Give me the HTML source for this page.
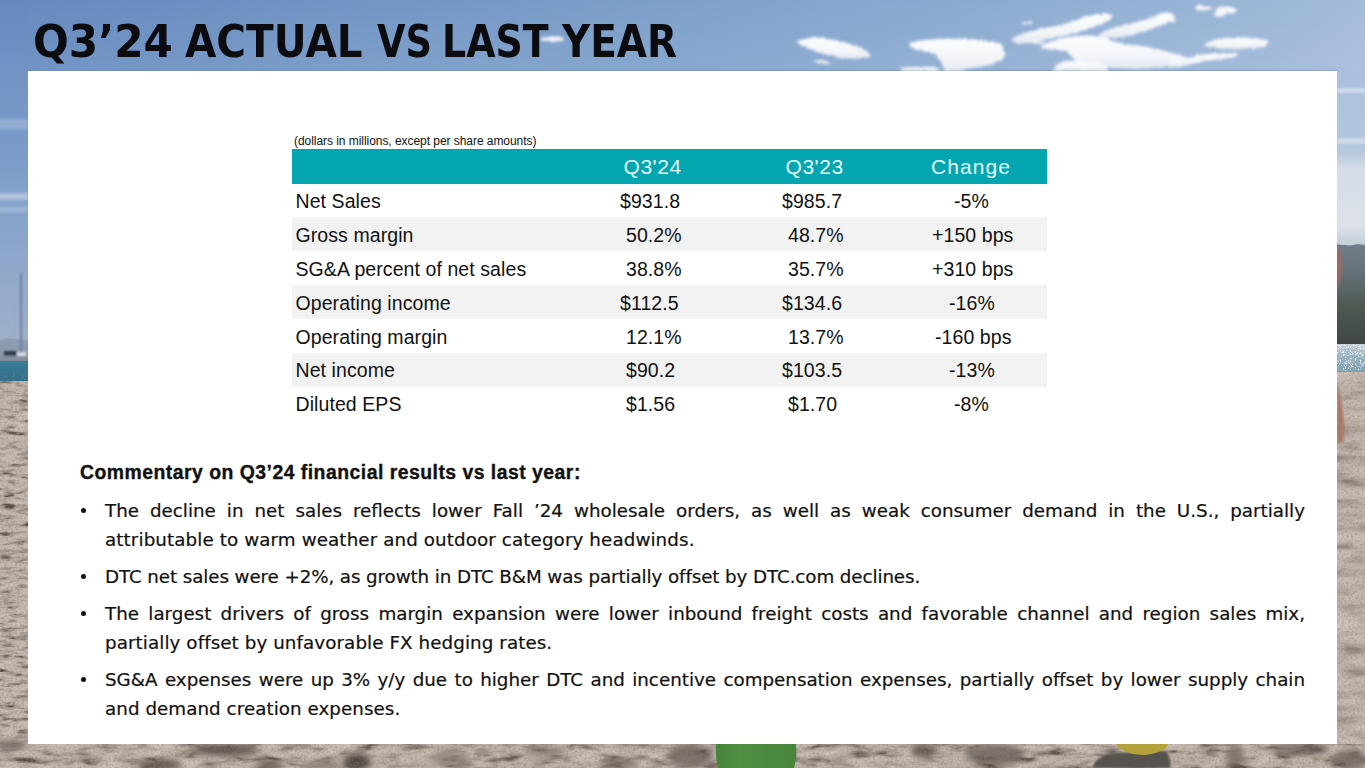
<!DOCTYPE html>
<html><head><meta charset="utf-8">
<style>
html,body{margin:0;padding:0;}
body{width:1365px;height:768px;overflow:hidden;position:relative;background:#7a9dca;font-family:"Liberation Sans",Arial,sans-serif;}
#bg{position:absolute;left:0;top:0;width:1365px;height:768px;}
#title{position:absolute;left:0;top:0;margin:0;font-weight:bold;font-size:44px;font-family:"DejaVu Sans","Liberation Sans",sans-serif;color:#0b0b10;}
#title span{position:absolute;top:12px;line-height:60px;white-space:nowrap;transform-origin:0 0;}
#panel{position:absolute;left:28px;top:71px;width:1309px;height:673px;background:#fff;}
#note{position:absolute;left:294px;top:133.5px;font:12px/14px "Liberation Sans",Arial,sans-serif;letter-spacing:-0.05px;color:#111;white-space:nowrap;}
#tbl{position:absolute;left:292px;top:149px;width:755px;}
.hd{height:34.5px;background:#03a5b1;position:relative;color:#e6fbfb;font-size:21px;letter-spacing:0.55px;}
.r{height:33.95px;position:relative;font-size:19.5px;letter-spacing:0.08px;color:#111;}
.r.g{background:#f2f2f2;}
.hd span,.r span{position:absolute;white-space:nowrap;}
.hd span{top:6px;line-height:24px;}
.r span{top:0.3px;line-height:35.5px;}
#comm{position:absolute;left:0;top:0;color:#111;}
#comm div{position:absolute;white-space:nowrap;}
.hh{left:80px;font:bold 19.4px/20px "Liberation Sans",Arial,sans-serif;letter-spacing:0.48px;-webkit-text-stroke:0.35px #111;}
.ln{left:105px;font:18.3px/20px "DejaVu Sans","Liberation Sans",sans-serif;-webkit-text-stroke:0.2px #111;}
.ln.j{width:1200px;text-align:justify;text-align-last:justify;}
.bu{left:81px;width:5px;height:5px;border-radius:50%;background:#111;}
</style></head>
<body>
<svg id="bg" width="1365" height="768" viewBox="0 0 1365 768">
  <defs>
    <linearGradient id="sky" x1="0" y1="0" x2="1" y2="0">
      <stop offset="0" stop-color="#6489be"/>
      <stop offset="0.5" stop-color="#7da0ca"/>
      <stop offset="0.93" stop-color="#9cb6d7"/>
      <stop offset="1" stop-color="#a4bcdb"/>
    </linearGradient>
    <linearGradient id="skyTop" x1="0" y1="0" x2="0" y2="1">
      <stop offset="0" stop-color="#ffffff" stop-opacity="0"/>
      <stop offset="1" stop-color="#ffffff" stop-opacity="0.09"/>
    </linearGradient>
    <linearGradient id="skyL" x1="0" y1="0" x2="0" y2="1">
      <stop offset="0" stop-color="#6589be"/>
      <stop offset="0.2" stop-color="#7194c5"/>
      <stop offset="0.45" stop-color="#7b9cc9"/>
      <stop offset="0.75" stop-color="#8fa8cb"/>
      <stop offset="1" stop-color="#9eb0ca"/>
    </linearGradient>
    <linearGradient id="skyR" x1="0" y1="0" x2="0" y2="1">
      <stop offset="0" stop-color="#a9c0dd"/>
      <stop offset="0.45" stop-color="#b3c7df"/>
      <stop offset="0.56" stop-color="#d5dce6"/>
      <stop offset="0.88" stop-color="#dde2e9"/>
      <stop offset="1" stop-color="#c2cedb"/>
    </linearGradient>
    <linearGradient id="mtn" x1="0" y1="0" x2="0" y2="1">
      <stop offset="0" stop-color="#737e8c"/>
      <stop offset="0.35" stop-color="#616c72"/>
      <stop offset="0.6" stop-color="#4f5a53"/>
      <stop offset="1" stop-color="#3f4642"/>
    </linearGradient>
    <linearGradient id="seaR" x1="0" y1="0" x2="0" y2="1">
      <stop offset="0" stop-color="#c9d5dd"/>
      <stop offset="0.35" stop-color="#9fb6c6"/>
      <stop offset="1" stop-color="#7b9cb0"/>
    </linearGradient>
    <filter id="spark" x="0" y="0" width="100%" height="100%">
      <feTurbulence type="turbulence" baseFrequency="0.6 0.9" numOctaves="1" seed="2"/>
      <feColorMatrix type="matrix" values="0 0 0 0 1  0 0 0 0 1  0 0 0 0 1  5 0 0 0 -1.1"/>
    </filter>
    <filter id="cl" x="-10%" y="-50%" width="120%" height="200%">
      <feTurbulence type="fractalNoise" baseFrequency="0.25" numOctaves="2" seed="4" result="t"/>
      <feDisplacementMap in="SourceGraphic" in2="t" scale="3.5" xChannelSelector="R" yChannelSelector="G" result="d"/>
      <feGaussianBlur in="d" stdDeviation="1.5"/>
    </filter>
    <linearGradient id="cg" x1="0" y1="0" x2="0" y2="1">
      <stop offset="0" stop-color="#fbfcfd"/>
      <stop offset="0.6" stop-color="#f4f6f9"/>
      <stop offset="1" stop-color="#e2e8f0"/>
    </linearGradient>
    <filter id="blur1"><feGaussianBlur stdDeviation="0.8"/></filter>
    <filter id="bl2" x="-20%" y="-100%" width="140%" height="300%"><feGaussianBlur stdDeviation="1.8"/></filter>
    <linearGradient id="grn" x1="0" y1="0" x2="1" y2="0">
      <stop offset="0" stop-color="#46843a"/>
      <stop offset="0.3" stop-color="#518e42"/>
      <stop offset="1" stop-color="#46853a"/>
    </linearGradient>
    <filter id="sandf3" x="0" y="0" width="100%" height="100%" color-interpolation-filters="sRGB">
      <feTurbulence type="fractalNoise" baseFrequency="0.04 0.14" numOctaves="4" seed="21"/>
      <feColorMatrix type="matrix" values="0.33 0.33 0.33 0 0  0.33 0.33 0.33 0 0  0.33 0.33 0.33 0 0  0 0 0 0 1"/>
      <feComponentTransfer>
        <feFuncR type="table" tableValues="0.27 0.27 0.28 0.36 0.60 0.74 0.79 0.82 0.84 0.86 0.88"/>
        <feFuncG type="table" tableValues="0.23 0.23 0.24 0.32 0.55 0.69 0.74 0.77 0.79 0.81 0.83"/>
        <feFuncB type="table" tableValues="0.21 0.21 0.22 0.29 0.51 0.65 0.70 0.73 0.75 0.77 0.79"/>
      </feComponentTransfer>
    </filter>
    <filter id="grain" x="0" y="0" width="100%" height="100%">
      <feTurbulence type="fractalNoise" baseFrequency="0.45" numOctaves="2" seed="9"/>
      <feColorMatrix type="matrix" values="0 0 0 0 0.25  0 0 0 0 0.22  0 0 0 0 0.2  -2.2 0 0 0 1.25"/>
    </filter>
    <filter id="bl06"><feGaussianBlur stdDeviation="0.6"/></filter>
    <filter id="bl1"><feGaussianBlur stdDeviation="1"/></filter>
    <filter id="bl3" x="-50%" y="-100%" width="200%" height="300%"><feGaussianBlur stdDeviation="3"/></filter>
    <filter id="sandf2" x="0" y="0" width="100%" height="100%" color-interpolation-filters="sRGB">
      <feTurbulence type="fractalNoise" baseFrequency="0.022 0.09" numOctaves="4" seed="5"/>
      <feColorMatrix type="matrix" values="0.33 0.33 0.33 0 0  0.33 0.33 0.33 0 0  0.33 0.33 0.33 0 0  0 0 0 0 1"/>
      <feComponentTransfer>
        <feFuncR type="table" tableValues="0.36 0.36 0.40 0.52 0.67 0.76 0.80 0.82 0.84 0.86 0.87"/>
        <feFuncG type="table" tableValues="0.31 0.31 0.35 0.47 0.62 0.71 0.75 0.77 0.79 0.81 0.82"/>
        <feFuncB type="table" tableValues="0.28 0.28 0.32 0.43 0.58 0.67 0.71 0.73 0.75 0.77 0.78"/>
      </feComponentTransfer>
    </filter>
    <filter id="sandf" x="0" y="0" width="100%" height="100%" color-interpolation-filters="sRGB">
      <feTurbulence type="fractalNoise" baseFrequency="0.06 0.22" numOctaves="4" seed="11"/>
      <feColorMatrix type="matrix" values="0.33 0.33 0.33 0 0  0.33 0.33 0.33 0 0  0.33 0.33 0.33 0 0  0 0 0 0 1"/>
      <feComponentTransfer>
        <feFuncR type="table" tableValues="0.29 0.29 0.29 0.33 0.62 0.76 0.79 0.81 0.83 0.85 0.87"/>
        <feFuncG type="table" tableValues="0.25 0.25 0.25 0.29 0.57 0.71 0.74 0.76 0.78 0.80 0.82"/>
        <feFuncB type="table" tableValues="0.22 0.22 0.22 0.26 0.53 0.67 0.70 0.72 0.74 0.76 0.78"/>
      </feComponentTransfer>
    </filter>
  </defs>
  <rect width="1365" height="768" fill="url(#sky)"/>
  <rect width="1365" height="72" fill="url(#skyTop)"/>
  <rect x="28" y="69.5" width="1309" height="1.5" fill="#6f86a6" opacity="0.35"/>
  <!-- left band -->
  <rect x="0" y="0" width="28" height="346" fill="url(#skyL)"/>
  <g filter="url(#bl2)" fill="#dfe7f1">
  <rect x="-6" y="119" width="34" height="10" opacity="0.28"/>
  <rect x="-6" y="193" width="34" height="7" opacity="0.5"/>
  <rect x="-6" y="207" width="34" height="5" opacity="0.3"/>
  </g>
  <linearGradient id="haze" x1="0" y1="0" x2="0" y2="1"><stop offset="0" stop-color="#9eb0c8"/><stop offset="0.4" stop-color="#93a3b8"/><stop offset="1" stop-color="#7f8c9a"/></linearGradient>
  <linearGradient id="seaL" x1="0" y1="0" x2="0" y2="1"><stop offset="0" stop-color="#3a7d98"/><stop offset="1" stop-color="#2c6f8c"/></linearGradient>
  <rect x="0" y="336" width="28" height="25" fill="url(#haze)"/>
  <path d="M0 340 Q8 337 16 339 L28 341 L28 350 L0 350 Z" fill="#8797ad" opacity="0.7"/>
  <g filter="url(#bl1)">
  <rect x="4" y="351" width="13" height="4.5" fill="#323a46"/>
  <rect x="17" y="352" width="9" height="4" fill="#d9dfe6"/>
  <rect x="20.2" y="273" width="1.8" height="80" fill="#6b7d98"/>
  <rect x="14.5" y="300" width="0.8" height="50" fill="#95a5ba"/>
  </g>
  <rect x="0" y="361" width="28" height="21" fill="url(#seaL)"/>
  <!-- right band -->
  <rect x="1337" y="71" width="28" height="175" fill="url(#skyR)"/>
  <rect x="1337" y="88" width="28" height="5" fill="#dde6f1" opacity="0.7" filter="url(#blur1)"/>
  <rect x="1337" y="138" width="28" height="6" fill="#dbe3ee" opacity="0.7" filter="url(#blur1)"/>
  <path d="M1337 244.5 L1350 245.5 L1358 244 L1365 245 L1365 345 L1337 345 Z" fill="url(#mtn)"/>
  <rect x="1337" y="344" width="28" height="29" fill="url(#seaR)"/>
  <rect x="1337" y="345" width="28" height="26" filter="url(#spark)"/>
  <!-- sand -->
  <rect x="0" y="381" width="28" height="387" filter="url(#sandf)"/>
  <rect x="1337" y="372" width="28" height="396" filter="url(#sandf2)"/>
  <rect x="0" y="744" width="1365" height="24" filter="url(#sandf3)"/>
  <g fill="#4a403b" filter="url(#bl3)">
    <ellipse cx="10" cy="745" rx="16" ry="4" opacity="0.7"/>
    <ellipse cx="160" cy="765" rx="22" ry="6" opacity="0.75"/>
    <ellipse cx="225" cy="750" rx="33" ry="6" opacity="0.8"/>
    <ellipse cx="270" cy="766" rx="14" ry="5" opacity="0.7"/>
    <ellipse cx="322" cy="766" rx="20" ry="5" opacity="0.45"/>
    <ellipse cx="357" cy="762" rx="14" ry="8" opacity="0.95"/>
    <ellipse cx="450" cy="758" rx="20" ry="9" opacity="0.35"/>
    <ellipse cx="545" cy="752" rx="20" ry="7" opacity="0.35"/>
    <ellipse cx="620" cy="764" rx="20" ry="5" opacity="0.55"/>
    <ellipse cx="690" cy="756" rx="22" ry="12" opacity="0.6"/>
    <ellipse cx="840" cy="759" rx="9" ry="3" opacity="0.5"/>
    <ellipse cx="923" cy="751" rx="12" ry="7" opacity="0.75"/>
    <ellipse cx="995" cy="755" rx="30" ry="11" opacity="0.6"/>
    <ellipse cx="1235" cy="756" rx="9" ry="12" opacity="0.55"/>
    <ellipse cx="1300" cy="749" rx="30" ry="6" opacity="0.6"/>
    <ellipse cx="1350" cy="760" rx="18" ry="10" opacity="0.6"/>
  </g>
  <g filter="url(#grain)" opacity="0.55">
    <rect x="0" y="381" width="28" height="387"/>
    <rect x="1337" y="372" width="28" height="396"/>
    <rect x="0" y="744" width="1365" height="24"/>
  </g>
  <!-- skin shapes right -->
  <path d="M1337 243 Q1342 252 1342 268 Q1341 282 1337 291 Z" fill="#9c6c62" opacity="0.9" filter="url(#bl1)"/>
  <path d="M1337 382 Q1341 395 1343.5 418 Q1345 432 1343 442 L1337 444 Z" fill="#a97a68" filter="url(#bl1)"/>
  <!-- objects bottom -->
  <path d="M716 744 L796 744 Q797 756 794 768 L718 768 Q715 756 716 744 Z" fill="url(#grn)" filter="url(#bl06)"/>
  <path d="M1093 768 Q1094 757 1112 753 L1166 751 Q1172 760 1170 768 Z" fill="#57524f" filter="url(#bl1)"/>
  <path d="M1116 744 L1168 744 Q1166 752 1145 755 Q1124 755 1116 744 Z" fill="#b3a23c"/>
  <!-- clouds -->
  <g fill="url(#cg)" filter="url(#cl)">
    <path d="M796 42 Q806 37 822 38 Q845 41 862 48 Q871 52 869 57 Q860 60 845 58 Q828 56 815 51 Q802 46 796 42 Z"/>
    <path d="M813 61 Q822 58 831 63 Q822 66 813 61 Z"/>
    <path d="M909 43 Q925 38.5 950 38.5 Q985 39 1000 43 Q1006 50 1004 57 Q998 63 985 66 Q970 69 958 71 L945 71 Q942 62 936 55 Q928 51 918 50 Q909 48 909 43 Z"/>
    <path d="M900 68 Q915 66 935 67 L940 71 L902 71 Z"/>
    <path d="M1011 39 Q1025 31 1050 27 Q1068 24 1085 17 Q1100 13 1112 14 Q1114 18 1102 24 Q1085 31 1068 35 Q1045 40 1030 43 Q1014 45 1011 39 Z"/>
    <path d="M1030 42 Q1038 40 1046 43 Q1040 46 1030 42 Z"/>
    <path d="M1099 34 Q1112 27 1132 23 Q1150 19 1160 14 Q1170 10 1175 15 Q1174 21 1165 24 Q1150 29 1140 33 Q1125 38 1110 38 Q1100 38 1099 34 Z"/>
    <path d="M1040 47 Q1050 40 1068 37 Q1090 34 1106 37 Q1112 42 1125 44 Q1148 46 1165 51 Q1180 55 1188 58 Q1186 63 1178 65 Q1160 68 1135 69 Q1110 68 1092 66 Q1076 62 1072 57 Q1068 51 1058 50 Q1046 50 1040 47 Z"/>
    <path d="M1053 70 Q1058 61 1072 60 Q1092 60 1105 65 Q1110 68 1108 71 L1053 71 Z"/>
    <path d="M1170 57 Q1185 59 1200 55 Q1220 52 1240 54 Q1235 58 1222 59 Q1205 61 1192 64 Q1180 67 1170 68 Z"/>
    <path d="M1203 45 Q1210 40 1225 38.5 Q1250 37 1267 40 Q1269 45 1265 47 Q1250 49 1230 49 Q1212 49 1203 45 Z"/>
    <ellipse cx="1203" cy="8" rx="8" ry="2.5"/>
    <ellipse cx="1226" cy="10" rx="11" ry="3.5"/>
    <ellipse cx="1220" cy="14" rx="7" ry="2"/>
    <ellipse cx="1027" cy="23" rx="5" ry="1.5"/>
    <ellipse cx="1172" cy="20" rx="3" ry="2"/>
    <ellipse cx="552" cy="39" rx="12" ry="2.5"/>
  </g>
</svg>
<h1 id="title"><span style="left:32.6px;transform:scaleX(0.959)">Q3’24</span><span style="left:185.4px;transform:scaleX(0.921)">ACTUAL</span><span style="left:376.5px;transform:scaleX(0.837)">VS</span><span style="left:441.8px;transform:scaleX(0.861)">LAST</span><span style="left:562.4px;transform:scaleX(0.886)">YEAR</span></h1>
<div id="panel"></div>
<div id="note">(dollars in millions, except per share amounts)</div>
<div id="tbl">
  <div class="hd"><span style="left:331.5px">Q3'24</span><span style="left:493.5px">Q3'23</span><span style="left:639px;letter-spacing:1.05px">Change</span></div>
  <div class="r"><span style="left:3.5px">Net Sales</span><span style="left:328px">$931.8</span><span style="left:490px">$985.7</span><span style="left:662px">-5%</span></div>
  <div class="r g"><span style="left:3.5px">Gross margin</span><span style="left:334px">50.2%</span><span style="left:496px">48.7%</span><span style="left:640px">+150 bps</span></div>
  <div class="r"><span style="left:3.5px">SG&amp;A percent of net sales</span><span style="left:334px">38.8%</span><span style="left:496px">35.7%</span><span style="left:640px">+310 bps</span></div>
  <div class="r g"><span style="left:3.5px">Operating income</span><span style="left:328px">$112.5</span><span style="left:490px">$134.6</span><span style="left:657px">-16%</span></div>
  <div class="r"><span style="left:3.5px">Operating margin</span><span style="left:334px">12.1%</span><span style="left:496px">13.7%</span><span style="left:643px">-160 bps</span></div>
  <div class="r g"><span style="left:3.5px">Net income</span><span style="left:334px">$90.2</span><span style="left:490px">$103.5</span><span style="left:657px">-13%</span></div>
  <div class="r"><span style="left:3.5px">Diluted EPS</span><span style="left:334px">$1.56</span><span style="left:496px">$1.70</span><span style="left:662px">-8%</span></div>
</div>
<div id="comm">
  <div class="hh" style="top:462px">Commentary on Q3’24 financial results vs last year:</div>
  <div class="bu" style="top:507.5px"></div>
  <div class="ln j" style="top:501px">The decline in net sales reflects lower Fall ’24 wholesale orders, as well as weak consumer demand in the U.S., partially</div>
  <div class="ln" style="top:530px;letter-spacing:0.1px">attributable to warm weather and outdoor category headwinds.</div>
  <div class="bu" style="top:573.5px"></div>
  <div class="ln" style="top:567px;letter-spacing:-0.1px">DTC net sales were +2%, as growth in DTC B&amp;M was partially offset by DTC.com declines.</div>
  <div class="bu" style="top:610.5px"></div>
  <div class="ln j" style="top:604px">The largest drivers of gross margin expansion were lower inbound freight costs and favorable channel and region sales mix,</div>
  <div class="ln" style="top:633px;letter-spacing:0.08px">partially offset by unfavorable FX hedging rates.</div>
  <div class="bu" style="top:676.5px"></div>
  <div class="ln j" style="top:670px">SG&amp;A expenses were up 3% y/y due to higher DTC and incentive compensation expenses, partially offset by lower supply chain</div>
  <div class="ln" style="top:699px;letter-spacing:0.05px">and demand creation expenses.</div>
</div>
</body></html>
